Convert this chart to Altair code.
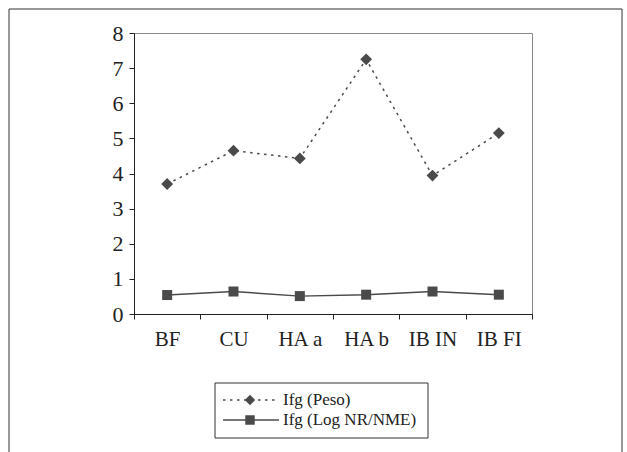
import altair as alt
import pandas as pd

categories = ["BF", "CU", "HA a", "HA b", "IB IN", "IB FI"]
peso = [3.70, 4.65, 4.43, 7.25, 3.94, 5.15]
lognr = [0.54, 0.64, 0.51, 0.55, 0.64, 0.55]
series = ["Ifg (Peso)", "Ifg (Log NR/NME)"]
y_ticks = [0, 1, 2, 3, 4, 5, 6, 7, 8]

FONT = "Liberation Serif"
COL = "#4a4a4a"

df = pd.DataFrame({
    "cat": categories * 2,
    "value": peso + lognr,
    "series": [series[0]] * len(categories) + [series[1]] * len(categories),
})

W, H = 398, 281
PL, PT = 134, 33

x = alt.X("cat:N", sort=categories,
          scale=alt.Scale(paddingInner=0, paddingOuter=0),
          axis=alt.Axis(title=None, labelAngle=0, tickBand="extent",
                        labelFont=FONT, labelFontSize=21, labelColor="#222",
                        labelPadding=9, tickSize=5, tickColor="#222",
                        domainColor="#222", labelBaseline="top"))
y = alt.Y("value:Q",
          scale=alt.Scale(domain=[0, 8], nice=False),
          axis=alt.Axis(title=None, values=y_ticks, grid=False,
                        labelFont=FONT, labelFontSize=22, labelColor="#222",
                        labelPadding=6, tickSize=5, tickColor="#222",
                        domainColor="#222"))

base = alt.Chart(df)
peso_line = base.transform_filter(alt.datum.series == series[0]).mark_line(
    color=COL, strokeWidth=1.5, strokeDash=[2.5, 4.5]).encode(x=x, y=y)
peso_pts = base.transform_filter(alt.datum.series == series[0]).mark_point(
    shape="diamond", size=140, filled=True, color=COL, opacity=1).encode(x=x, y=y)
log_line = base.transform_filter(alt.datum.series == series[1]).mark_line(
    color=COL, strokeWidth=1.4).encode(x=x, y=y)
log_pts = base.transform_filter(alt.datum.series == series[1]).mark_point(
    shape="square", size=100, filled=True, color=COL, opacity=1).encode(x=x, y=y)

# outer frame
frame = alt.Chart(pd.DataFrame({"a": [0]})).mark_rect(
    fill=None, stroke="#333", strokeWidth=1).encode(
    x=alt.value(9 - PL), x2=alt.value(622 - PL),
    y=alt.value(9 - PT), y2=alt.value(520 - PT))

# legend box
leg_box = alt.Chart(pd.DataFrame({"a": [0]})).mark_rect(
    fill="white", stroke="#333", strokeWidth=1).encode(
    x=alt.value(215 - PL), x2=alt.value(428 - PL),
    y=alt.value(383 - PT), y2=alt.value(438 - PT))

leg_layers = []
leg_y = [400, 420]
shapes = ["diamond", "square"]
sizes = [110, 90]
dashes = [[2.5, 4.5], None]
for i, name in enumerate(series):
    d = alt.Chart(pd.DataFrame({"name": [name]}))
    ly = leg_y[i] - PT
    rule_kwargs = dict(color=COL, strokeWidth=1.4)
    if dashes[i] is not None:
        rule_kwargs["strokeDash"] = dashes[i]
    leg_layers.append(d.mark_rule(**rule_kwargs).encode(
        x=alt.value(223 - PL), x2=alt.value(279 - PL), y=alt.value(ly)))
    leg_layers.append(d.mark_point(shape=shapes[i], size=sizes[i], filled=True,
                                   color=COL, opacity=1).encode(
        x=alt.value(250 - PL), y=alt.value(ly)))
    leg_layers.append(d.mark_text(font=FONT, fontSize=17, align="left",
                                  baseline="middle", color="#222").encode(
        x=alt.value(283 - PL), y=alt.value(ly), text="name:N"))

chart = alt.layer(frame, peso_line, log_line, peso_pts, log_pts, leg_box,
                  *leg_layers).properties(
    width=W, height=H,
    autosize=alt.AutoSizeParams(type="none"),
    padding={"left": PL, "top": PT, "right": 627 - PL - W, "bottom": 452 - PT - H},
    background="white",
).configure_view(stroke="#888", strokeWidth=1)

chart.save("out.html", embed_options={"renderer": "svg", "actions": False})
